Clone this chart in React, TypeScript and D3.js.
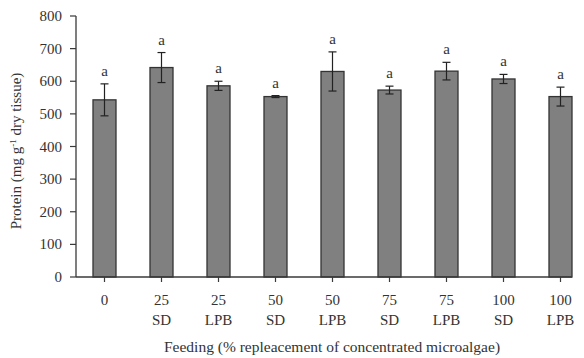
import React from "react";
import * as d3 from "d3";

const categories = ["0", "25 SD", "25 LPB", "50 SD", "50 LPB", "75 SD", "75 LPB", "100 SD", "100 LPB"];
const line1 = ["0", "25", "25", "50", "50", "75", "75", "100", "100"];
const line2 = ["", "SD", "LPB", "SD", "LPB", "SD", "LPB", "SD", "LPB"];
const means = [543, 642, 586, 553, 630, 573, 631, 607, 553];
const errors = [49, 46, 14, 3, 60, 12, 27, 14, 29];
const letters = ["a", "a", "a", "a", "a", "a", "a", "a", "a"];
const yTicks = [0, 100, 200, 300, 400, 500, 600, 700, 800];

const W = 584;
const H = 358;
const left = 76;
const top = 16;
const bottom = 277;
const FONT = "'Liberation Serif', 'DejaVu Serif', serif";
const FS = 15;

export default function App() {
  const x = d3.scaleBand<string>().domain(categories).range([left, left + 57 * 9]).paddingInner(0.6).paddingOuter(0.3);
  const y = d3.scaleLinear().domain([0, 800]).range([bottom, top]);
  const bw = 23;
  const axisColor = "#3a3a3a";
  const textColor = "#333";
  return (
    <svg width={W} height={H} style={{ position: "absolute", left: 0, top: 0, background: "#fff" }}>
      {categories.map((c, i) => {
        const cx = (x(c) as number) + x.bandwidth() / 2;
        return (
          <g key={c}>
            <rect x={cx - bw / 2} y={y(means[i])} width={bw} height={bottom - y(means[i])} fill="#808080" stroke="#333" strokeWidth={1.3} />
            <line x1={cx} x2={cx} y1={y(means[i] + errors[i])} y2={y(means[i] - errors[i])} stroke="#222" strokeWidth={1.2} />
            <line x1={cx - 4} x2={cx + 4} y1={y(means[i] + errors[i])} y2={y(means[i] + errors[i])} stroke="#222" strokeWidth={1.2} />
            <line x1={cx - 4} x2={cx + 4} y1={y(means[i] - errors[i])} y2={y(means[i] - errors[i])} stroke="#222" strokeWidth={1.2} />
            <text x={cx} y={y(means[i] + errors[i]) - 8} textAnchor="middle" fontFamily={FONT} fontSize={FS} fill={textColor}>{letters[i]}</text>
            <line x1={cx} x2={cx} y1={bottom} y2={bottom + 5} stroke={axisColor} strokeWidth={1.2} />
            <text x={cx} y={bottom + 28} textAnchor="middle" fontFamily={FONT} fontSize={FS} fill={textColor}>{line1[i]}</text>
            <text x={cx} y={bottom + 48} textAnchor="middle" fontFamily={FONT} fontSize={FS} fill={textColor}>{line2[i]}</text>
          </g>
        );
      })}
      <line x1={left} x2={left} y1={top} y2={bottom} stroke={axisColor} strokeWidth={1.3} />
      <line x1={left} x2={572} y1={bottom} y2={bottom} stroke={axisColor} strokeWidth={1.3} />
      {yTicks.map((t) => (
        <g key={t}>
          <line x1={left - 6} x2={left} y1={y(t)} y2={y(t)} stroke={axisColor} strokeWidth={1.2} />
          <text x={left - 14} y={y(t) + 5} textAnchor="end" fontFamily={FONT} fontSize={FS} fill={textColor}>{t}</text>
        </g>
      ))}
      <text transform={`translate(21,151) rotate(-90)`} textAnchor="middle" fontFamily={FONT} fontSize={FS} fill={textColor}>
        Protein (mg g<tspan baselineShift="super" fontSize={9}>-1</tspan> dry tissue)
      </text>
      <text x={332} y={352} textAnchor="middle" fontFamily={FONT} fontSize={15.5} fill={textColor}>
        Feeding (% repleacement of concentrated microalgae)
      </text>
    </svg>
  );
}
